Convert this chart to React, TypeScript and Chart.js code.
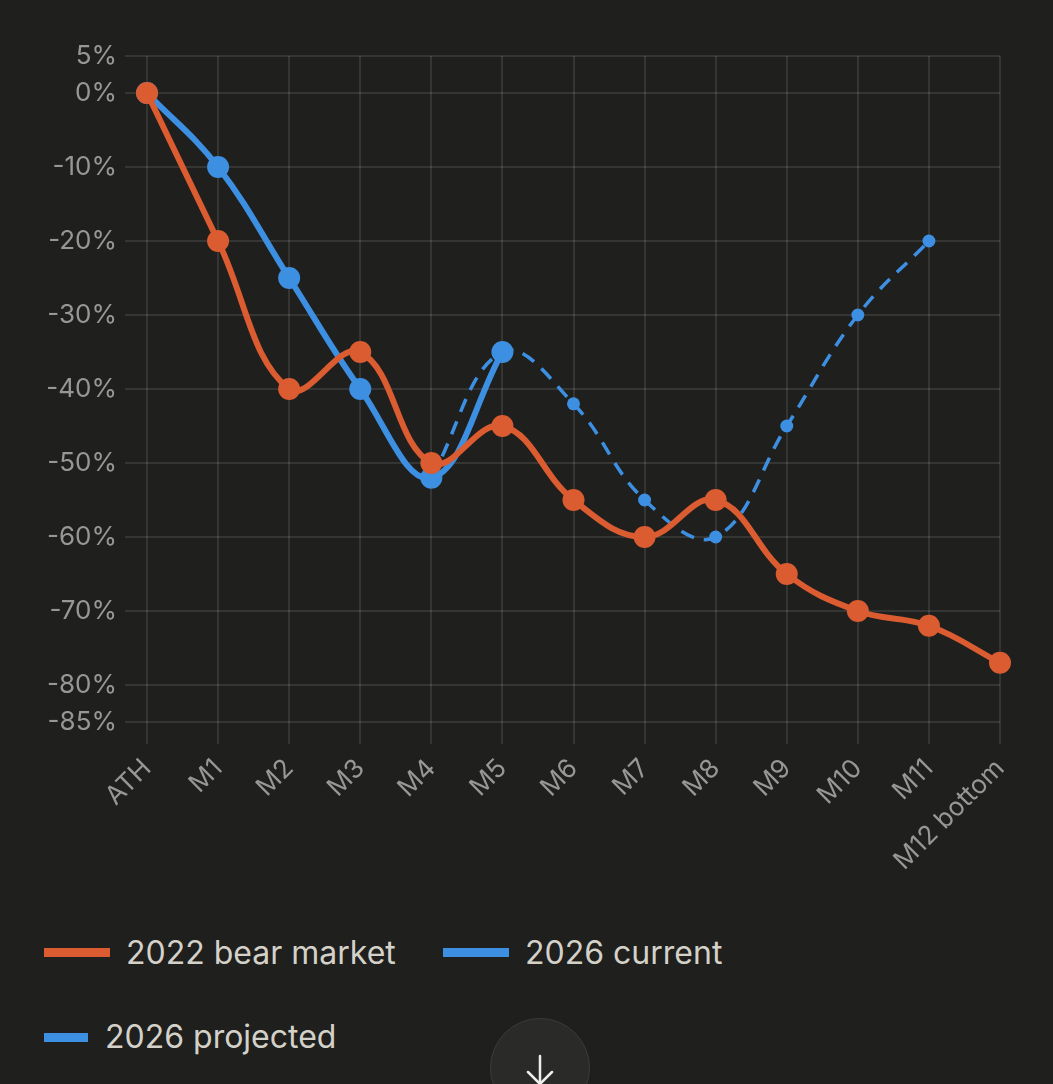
import React, { useEffect, useRef } from "react";
import { Chart, registerables } from "chart.js";

Chart.register(...registerables);

const categories = ["ATH", "M1", "M2", "M3", "M4", "M5", "M6", "M7", "M8", "M9", "M10", "M11", "M12 bottom"];
const bear2022 = [0, -20, -40, -35, -50, -45, -55, -60, -55, -65, -70, -72, -77];
const current2026 = [0, -10, -25, -40, -52, -35, null, null, null, null, null, null, null];
const projected2026 = [null, null, null, null, -52, -35, -42, -55, -60, -45, -30, -20, null];
const yTicks = [5, 0, -10, -20, -30, -40, -50, -60, -70, -80, -85];

const ORANGE = "#da5c30";
const BLUE = "#3d8fe2";
const BG = "#1f1f1e";
const TICK = "#979797";
const GRID = "rgba(255,255,255,0.10)";
const LEGEND_TEXT = "#d4d1c9";
const FONT = "Inter, 'Noto Sans', sans-serif";

export default function App() {
  const ref = useRef<HTMLCanvasElement | null>(null);

  useEffect(() => {
    if (!ref.current) return;
    const chart = new Chart(ref.current, {
      type: "line",
      data: {
        labels: categories,
        datasets: [
          {
            label: "2022 bear market",
            data: bear2022,
            borderColor: ORANGE,
            backgroundColor: ORANGE,
            borderWidth: 6,
            pointRadius: 11,
            pointBorderWidth: 0,
            tension: 0.4,
          },
          {
            label: "2026 current",
            data: current2026,
            borderColor: BLUE,
            backgroundColor: BLUE,
            borderWidth: 6,
            pointRadius: 11,
            pointBorderWidth: 0,
            tension: 0.4,
            spanGaps: false,
          },
          {
            label: "2026 projected",
            data: projected2026,
            borderColor: BLUE,
            backgroundColor: BLUE,
            borderWidth: 3.5,
            borderDash: [14, 10],
            pointRadius: 6.5,
            pointBorderWidth: 0,
            tension: 0.4,
            spanGaps: false,
          },
        ],
      },
      options: {
        responsive: false,
        animation: false,
        maintainAspectRatio: false,
        layout: { padding: { top: 56, right: 53, left: 0, bottom: 0 } },
        plugins: {
          legend: { display: false },
          tooltip: { enabled: false },
        },
        scales: {
          x: {
            offset: false,
            afterFit: (scale: any) => {
              scale.height = 200;
            },
            grid: { color: GRID, lineWidth: 2, tickLength: 22, drawTicks: true },
            border: { display: false },
            ticks: {
              color: TICK,
              font: { family: FONT, size: 26 },
              minRotation: 45,
              maxRotation: 45,
              padding: 9,
              autoSkip: false,
            },
          },
          y: {
            min: -85,
            max: 5,
            afterBuildTicks: (scale: any) => {
              scale.ticks = yTicks.map((v) => ({ value: v }));
            },
            afterFit: (scale: any) => {
              scale.width = 147;
            },
            grid: { color: GRID, lineWidth: 2, tickLength: 22, drawTicks: true },
            border: { display: false },
            ticks: {
              color: TICK,
              font: { family: FONT, size: 26 },
              padding: 8,
              callback: (v: any) => `${v}%`,
            },
          },
        },
      },
    });
    return () => chart.destroy();
  }, []);

  const legendText: React.CSSProperties = {
    position: "absolute",
    fontFamily: FONT,
    fontSize: 32,
    color: LEGEND_TEXT,
    lineHeight: "40px",
    height: 40,
    whiteSpace: "nowrap",
  };
  const box = (left: number, top: number, width: number, color: string): React.CSSProperties => ({
    position: "absolute",
    left,
    top,
    width,
    height: 9,
    background: color,
  });

  return (
    <div style={{ position: "fixed", inset: 0, background: BG, overflow: "hidden" }}>
      <canvas ref={ref} width={1053} height={922} style={{ position: "absolute", left: 0, top: 0, width: 1053, height: 922 }} />
      <div style={box(44, 948, 66, ORANGE)} />
      <div style={{ ...legendText, left: 126, top: 933 }}>2022 bear market</div>
      <div style={box(443, 948, 66, BLUE)} />
      <div style={{ ...legendText, left: 525, top: 933 }}>2026 current</div>
      <div style={box(44, 1033, 44, BLUE)} />
      <div style={{ ...legendText, left: 105, top: 1017 }}>2026 projected</div>
      <div
        style={{
          position: "absolute",
          left: 490,
          top: 1018,
          width: 100,
          height: 100,
          borderRadius: "50%",
          background: "#2a2a29",
          border: "1px solid #3b3b3a",
          boxSizing: "border-box",
        }}
      >
        <svg width="100" height="100" style={{ position: "absolute", left: -1, top: -1 }}>
          <line x1="50" y1="38" x2="50" y2="66" stroke="#eeeeee" strokeWidth="2.5" strokeLinecap="round" />
          <polyline points="38,54 50,66 62,54" fill="none" stroke="#eeeeee" strokeWidth="2.5" strokeLinecap="round" strokeLinejoin="round" />
        </svg>
      </div>
    </div>
  );
}
